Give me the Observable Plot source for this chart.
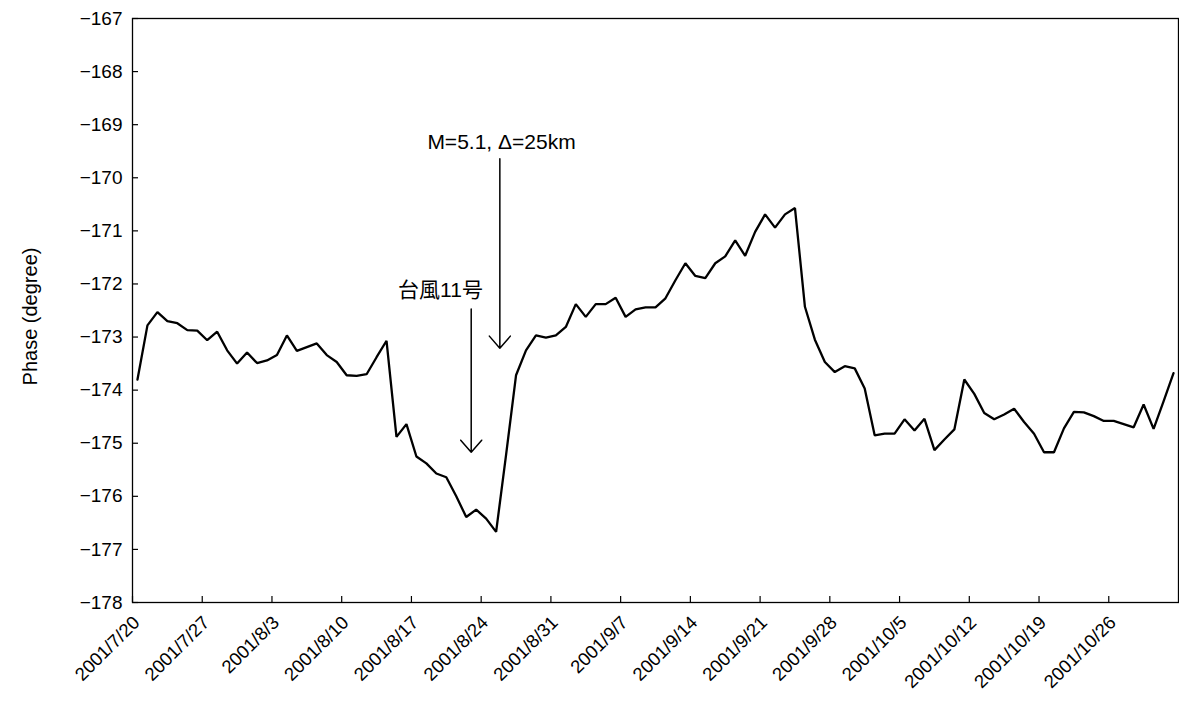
<!DOCTYPE html>
<html>
<head>
<meta charset="utf-8">
<script src="https://cdn.jsdelivr.net/npm/d3@7"></script>
<script src="https://cdn.jsdelivr.net/npm/@observablehq/plot@0.6"></script>
<style>
  html, body { margin: 0; padding: 0; background: #fff; }
  #chart svg { display: block; }
</style>
</head>
<body>
<div id="chart"></div>
<script>
// ---- data ----
const firstDay = "2001-07-20";      // first daily sample
const lastDayExclusive = "2001-11-02"; // end of the date axis
const phase = [
  -173.80, -172.78, -172.53, -172.70, -172.74, -172.87, -172.88, -173.06, -172.90, -173.25,
  -173.50, -173.29, -173.49, -173.44, -173.34, -172.97, -173.26, -173.19, -173.12, -173.34,
  -173.47, -173.72, -173.73, -173.70, -173.38, -173.07, -174.88, -174.64, -175.25, -175.38,
  -175.57, -175.64, -176.00, -176.39, -176.25, -176.42, -176.67, -175.22, -173.72, -173.25,
  -172.97, -173.01, -172.97, -172.81, -172.38, -172.62, -172.38, -172.38, -172.26, -172.62,
  -172.48, -172.44, -172.44, -172.27, -171.93, -171.61, -171.85, -171.89, -171.61, -171.48,
  -171.18, -171.47, -171.02, -170.69, -170.94, -170.69, -170.57, -172.43, -173.05, -173.47,
  -173.66, -173.55, -173.59, -173.97, -174.85, -174.82, -174.82, -174.55, -174.76, -174.54,
  -175.13, -174.93, -174.74, -173.80, -174.07, -174.43, -174.55, -174.46, -174.35, -174.60,
  -174.82, -175.17, -175.17, -174.72, -174.41, -174.42, -174.49, -174.58, -174.58, -174.64,
  -174.70, -174.27, -174.73, -174.21, -173.68
];
const xTickDates = [
  "2001-07-20", "2001-07-27", "2001-08-03", "2001-08-10", "2001-08-17", "2001-08-24", "2001-08-31",
  "2001-09-07", "2001-09-14", "2001-09-21", "2001-09-28", "2001-10-05", "2001-10-12", "2001-10-19", "2001-10-26"
];
const yTicks = [-178, -177, -176, -175, -174, -173, -172, -171, -170, -169, -168, -167];
const yTitle = "Phase (degree)";

// annotation arrows (date, start value, tip value)
const arrowDates = ["2001-08-23T00:00Z", "2001-08-25T21:00Z"];
const arrowFrom = [-172.47, -169.64];
const arrowTo = [-175.17, -173.21];
// annotation labels
const noteTexts = ["台風11号", "M=5.1, Δ=25km"];
const noteDates = ["2001-08-19T22:00Z", "2001-08-26T01:00Z"];
const noteValues = [-172.12, -169.34];

// ---- build tables ----
const start = new Date(firstDay + "T00:00Z");
const series = phase.map((v, i) => ({date: d3.utcDay.offset(start, i), value: v}));
const arrows = arrowDates.map((d, i) => ({x: new Date(d), from: arrowFrom[i], to: arrowTo[i]}));
const notes = noteTexts.map((t, i) => ({x: new Date(noteDates[i]), y: noteValues[i], text: t}));
const xTicks = xTickDates.map(d => new Date(d + "T00:00Z"));
const fmt = d => `${d.getUTCFullYear()}/${d.getUTCMonth() + 1}/${d.getUTCDate()}`;
const font = "'Liberation Sans', Arial, 'Noto Sans CJK JP', sans-serif";

const chart = Plot.plot({
  width: 1179,
  height: 713,
  marginLeft: 132,
  marginRight: 1,
  marginTop: 18,
  marginBottom: 111,
  style: {fontFamily: font, fontSize: "19px", color: "#000", background: "#fff"},
  x: {type: "utc", domain: [new Date(firstDay + "T00:00Z"), new Date(lastDayExclusive + "T00:00Z")]},
  y: {domain: [-178, -167]},
  marks: [
    Plot.frame({stroke: "#000", strokeWidth: 1.3}),
    Plot.axisY({
      ticks: yTicks, tickSize: -6, tickPadding: 16, tickFormat: d => String(d).replace("-", "\u2212"),
      label: null, fontSize: 19, strokeWidth: 1.2
    }),
    // inward tick marks on the date axis
    Plot.axisX({ticks: xTicks, tickSize: -6, tickFormat: () => "", label: null, strokeWidth: 1.2}),
    // rotated date labels
    Plot.axisX({
      ticks: xTicks, tickSize: 0, tickPadding: 17, dx: 4,
      tickRotate: -45, tickFormat: fmt, label: null, fontSize: 18.5
    }),
    Plot.text([yTitle], {frameAnchor: "left", textAnchor: "middle", dx: -102, dy: 6, rotate: -90, fontSize: 20, fill: "#000"}),
    Plot.line(series, {
      x: d => d3.utcHour.offset(d.date, 12), y: "value",
      stroke: "#000", strokeWidth: 2.3, strokeLinejoin: "miter", curve: "linear"
    }),
    Plot.arrow(arrows, {
      x1: "x", x2: "x", y1: "from", y2: "to",
      stroke: "#000", strokeWidth: 1.5, headAngle: 82, headLength: 16
    }),
    Plot.text(notes, {x: "x", y: "y", text: "text", fontSize: 21, fill: "#000"})
  ]
});
document.getElementById("chart").appendChild(chart);
</script>
</body>
</html>
